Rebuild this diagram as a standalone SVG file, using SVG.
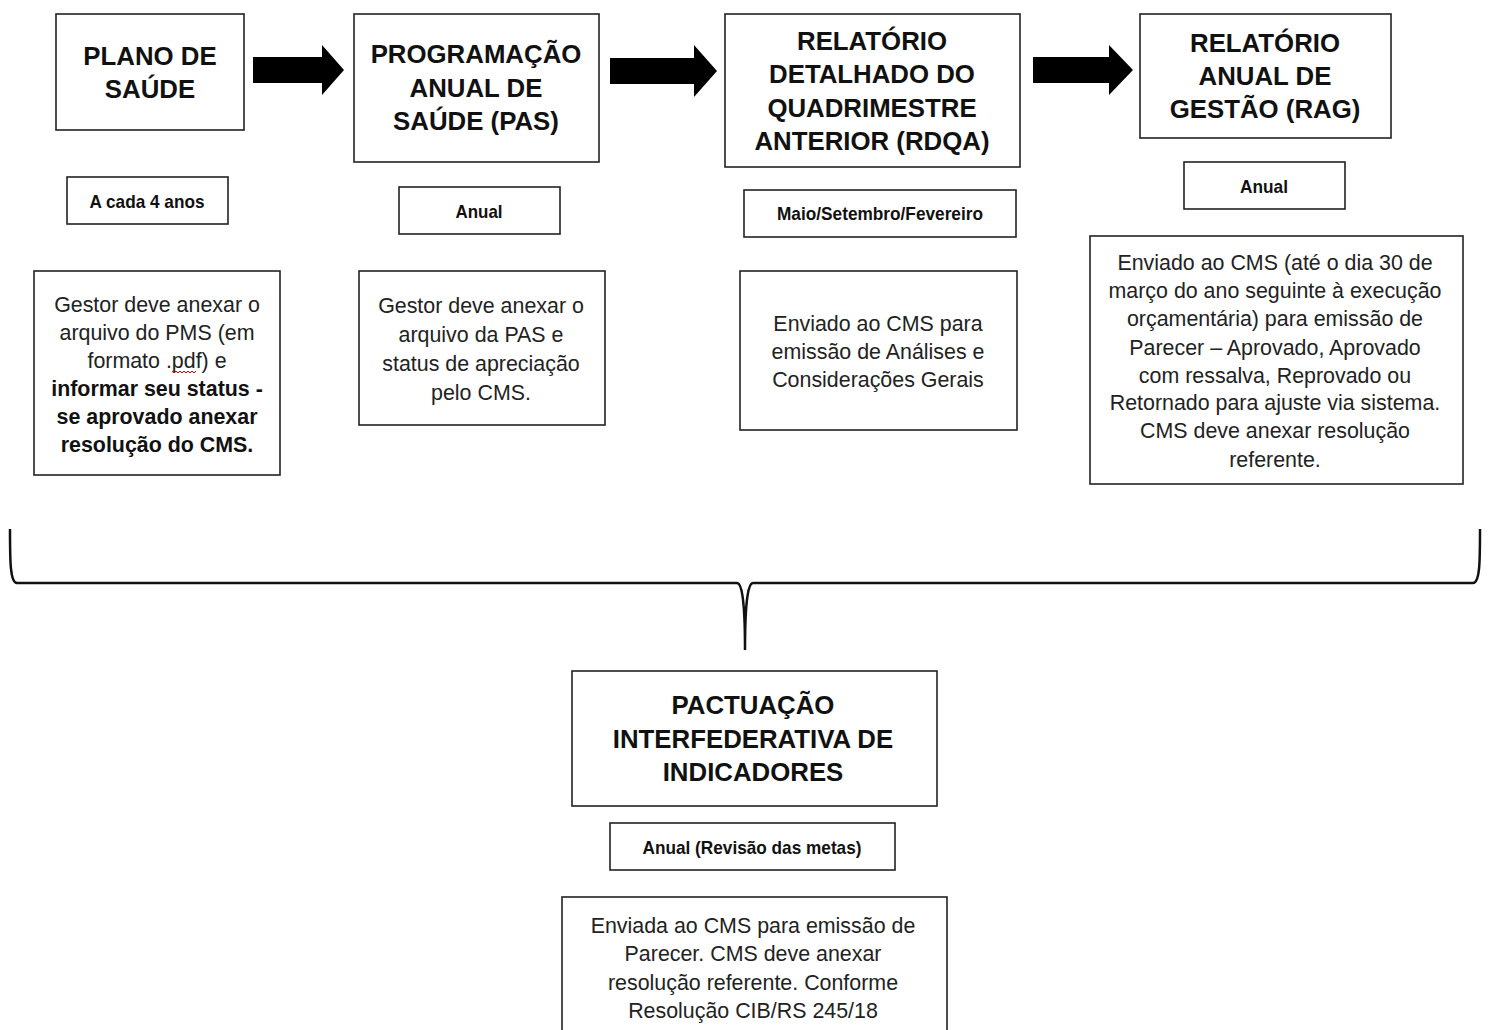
<svg xmlns="http://www.w3.org/2000/svg" width="1490" height="1030" viewBox="0 0 1490 1030">
<style>
.box{fill:#fff;stroke:#222;stroke-width:1.6}
.title{font-family:"Liberation Sans",Arial,sans-serif;font-weight:bold;font-size:25.8px;fill:#111;text-anchor:middle}
.sub{font-family:"Liberation Sans Narrow","Liberation Sans",Arial,sans-serif;font-weight:bold;font-size:19px;fill:#111;text-anchor:middle}
.desc{font-family:"Liberation Sans",Arial,sans-serif;font-size:21.4px;fill:#222;text-anchor:middle}
.b{font-weight:bold;fill:#111}
.arrow{fill:#000}
.brace{fill:none;stroke:#111;stroke-width:2.5}
</style>
<rect width="1490" height="1030" fill="#fff"/>
<g id="connectors">
<polygon class="arrow" points="253,57 322,57 322,45 344,70 322,95 322,83 253,83"/>
<polygon class="arrow" points="610,58 694,58 694,45 717,71 694,97 694,84 610,84"/>
<polygon class="arrow" points="1033,57 1109,57 1109,45 1133,70 1109,95 1109,83 1033,83"/>
<path class="brace" d="M10,529 C10,560 10,583 17,583 L737,583 C741,583 745,595 745,650 M745,650 C745,595 749,583 753,583 L1473,583 C1480,583 1480,560 1480,529"/>
</g>
<g id="plano">
<rect class="box" x="56" y="14" width="188" height="116"/>
<text class="title" x="150" y="65">PLANO DE</text>
<text class="title" x="150" y="98">SAÚDE</text>
</g>
<g id="plano-freq">
<rect class="box" x="67" y="177" width="161" height="47"/>
<text class="sub" x="147" y="208" textLength="115" lengthAdjust="spacingAndGlyphs">A cada 4 anos</text>
</g>
<g id="plano-desc">
<rect class="box" x="34" y="271" width="246" height="204"/>
<text class="desc" x="157" y="312">Gestor deve anexar o</text>
<text class="desc" x="157" y="340">arquivo do PMS (em</text>
<text class="desc" x="157" y="368">formato .pdf) e</text>
<path d="M172,371 l2,2 l2,-2 l2,2 l2,-2 l2,2 l2,-2 l2,2 l2,-2 l2,2 l2,-2 l2,2 l2,-2" fill="none" stroke="#d00" stroke-width="1"/>
<text class="desc b" x="157" y="396">informar seu status -</text>
<text class="desc b" x="157" y="424">se aprovado anexar</text>
<text class="desc b" x="157" y="452">resolução do CMS.</text>
</g>
<g id="pas">
<rect class="box" x="354" y="14" width="245" height="148"/>
<text class="title" x="476" y="63">PROGRAMAÇÃO</text>
<text class="title" x="476" y="97">ANUAL DE</text>
<text class="title" x="476" y="130">SAÚDE (PAS)</text>
</g>
<g id="pas-freq">
<rect class="box" x="399" y="187" width="161" height="47"/>
<text class="sub" x="479" y="218" textLength="47" lengthAdjust="spacingAndGlyphs">Anual</text>
</g>
<g id="pas-desc">
<rect class="box" x="359" y="271" width="246" height="154"/>
<text class="desc" x="481" y="313">Gestor deve anexar o</text>
<text class="desc" x="481" y="342">arquivo da PAS e</text>
<text class="desc" x="481" y="371">status de apreciação</text>
<text class="desc" x="481" y="400">pelo CMS.</text>
</g>
<g id="rdqa">
<rect class="box" x="725" y="14" width="295" height="153"/>
<text class="title" x="872" y="50">RELATÓRIO</text>
<text class="title" x="872" y="83">DETALHADO DO</text>
<text class="title" x="872" y="117">QUADRIMESTRE</text>
<text class="title" x="872" y="150">ANTERIOR (RDQA)</text>
</g>
<g id="rdqa-freq">
<rect class="box" x="744" y="190" width="272" height="47"/>
<text class="sub" x="880" y="220" textLength="206" lengthAdjust="spacingAndGlyphs">Maio/Setembro/Fevereiro</text>
</g>
<g id="rdqa-desc">
<rect class="box" x="740" y="271" width="277" height="159"/>
<text class="desc" x="878" y="331">Enviado ao CMS para</text>
<text class="desc" x="878" y="359">emissão de Análises e</text>
<text class="desc" x="878" y="387">Considerações Gerais</text>
</g>
<g id="rag">
<rect class="box" x="1140" y="14" width="251" height="124"/>
<text class="title" x="1265" y="52">RELATÓRIO</text>
<text class="title" x="1265" y="85">ANUAL DE</text>
<text class="title" x="1265" y="118">GESTÃO (RAG)</text>
</g>
<g id="rag-freq">
<rect class="box" x="1184" y="162" width="161" height="47"/>
<text class="sub" x="1264" y="193" textLength="48" lengthAdjust="spacingAndGlyphs">Anual</text>
</g>
<g id="rag-desc">
<rect class="box" x="1090" y="236" width="373" height="248"/>
<text class="desc" x="1275" y="270">Enviado ao CMS (até o dia 30 de</text>
<text class="desc" x="1275" y="298">março do ano seguinte à execução</text>
<text class="desc" x="1275" y="326">orçamentária) para emissão de</text>
<text class="desc" x="1275" y="355">Parecer – Aprovado, Aprovado</text>
<text class="desc" x="1275" y="383">com ressalva, Reprovado ou</text>
<text class="desc" x="1275" y="410">Retornado para ajuste via sistema.</text>
<text class="desc" x="1275" y="438">CMS deve anexar resolução</text>
<text class="desc" x="1275" y="467">referente.</text>
</g>
<g id="pactuacao">
<rect class="box" x="572" y="671" width="365" height="135"/>
<text class="title" x="753" y="714">PACTUAÇÃO</text>
<text class="title" x="753" y="748">INTERFEDERATIVA DE</text>
<text class="title" x="753" y="781">INDICADORES</text>
</g>
<g id="pactuacao-freq">
<rect class="box" x="610" y="823" width="285" height="47"/>
<text class="sub" x="752" y="854" textLength="219" lengthAdjust="spacingAndGlyphs">Anual (Revisão das metas)</text>
</g>
<g id="pactuacao-desc">
<rect class="box" x="562" y="897" width="385" height="140"/>
<text class="desc" x="753" y="933">Enviada ao CMS para emissão de</text>
<text class="desc" x="753" y="961">Parecer. CMS deve anexar</text>
<text class="desc" x="753" y="990">resolução referente. Conforme</text>
<text class="desc" x="753" y="1018">Resolução CIB/RS 245/18</text>
</g>
</svg>
